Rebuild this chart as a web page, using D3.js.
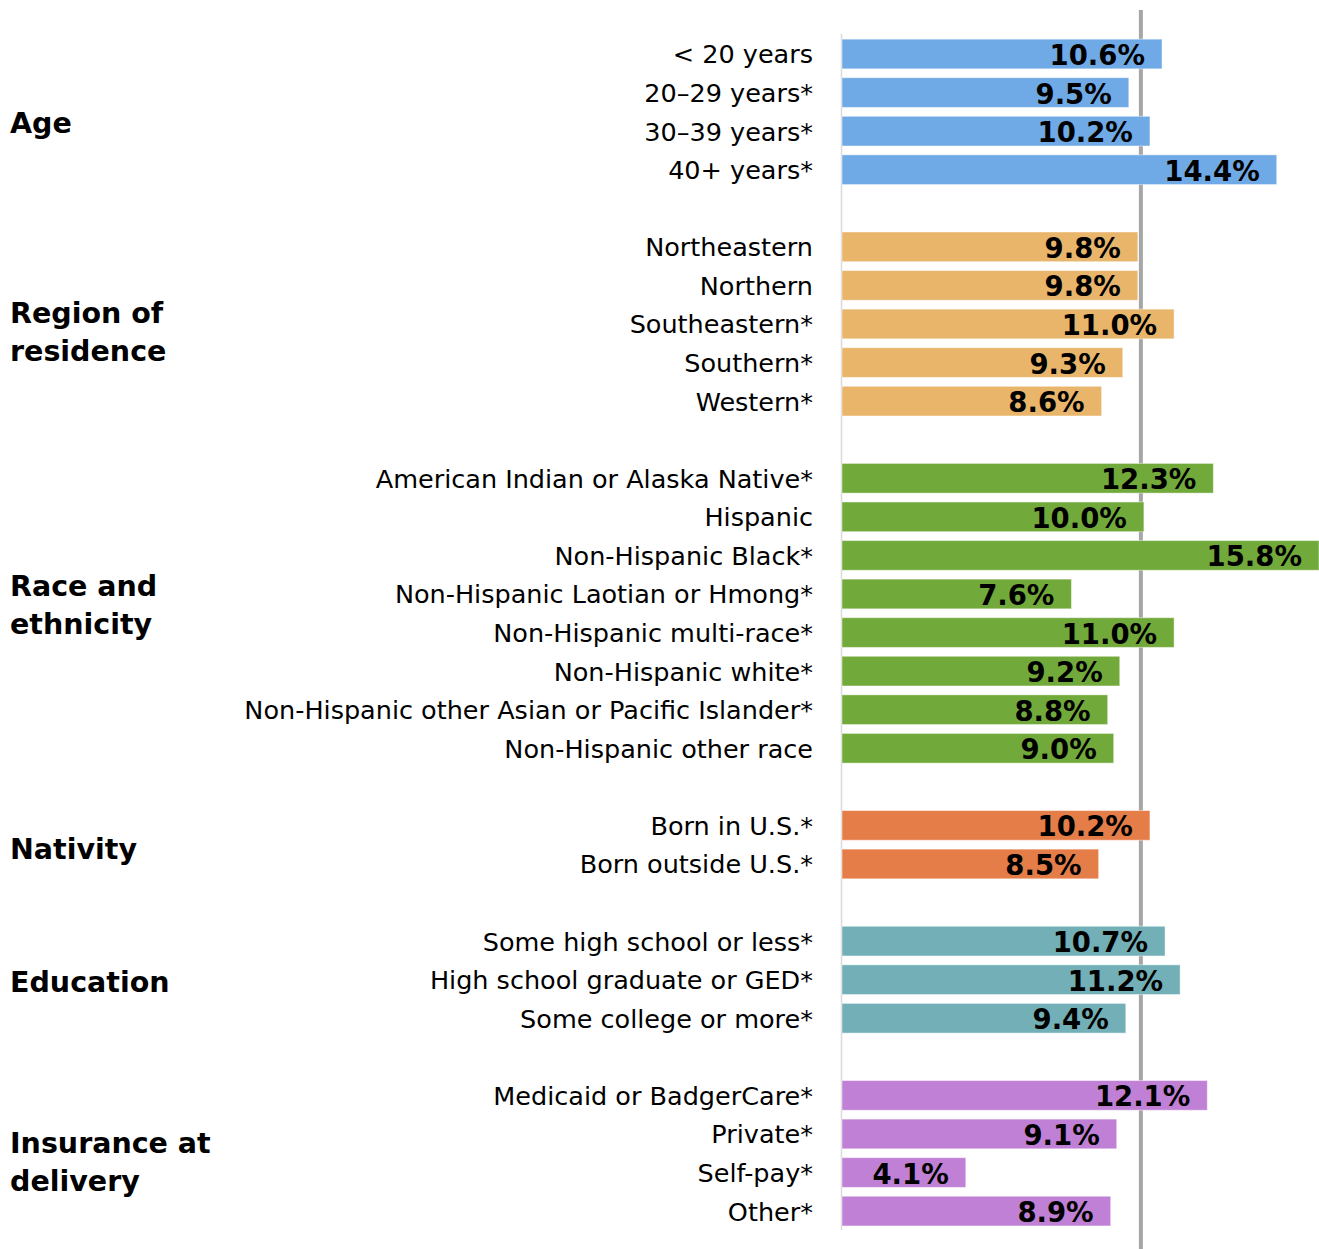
<!DOCTYPE html>
<html><head><meta charset="utf-8">
<script src="https://cdn.jsdelivr.net/npm/d3@7"></script>
<style>body{margin:0;background:#fff}svg{display:block}</style>
</head><body>
<script>
const groups = ["Age","Region of residence","Race and ethnicity","Nativity","Education","Insurance at delivery"];
const groupLabelLines = [["Age"],["Region of","residence"],["Race and","ethnicity"],["Nativity"],["Education"],["Insurance at","delivery"]];
const categories = [
  ["< 20 years","20–29 years*","30–39 years*","40+ years*"],
  ["Northeastern","Northern","Southeastern*","Southern*","Western*"],
  ["American Indian or Alaska Native*","Hispanic","Non-Hispanic Black*","Non-Hispanic Laotian or Hmong*","Non-Hispanic multi-race*","Non-Hispanic white*","Non-Hispanic other Asian or Pacific Islander*","Non-Hispanic other race"],
  ["Born in U.S.*","Born outside U.S.*"],
  ["Some high school or less*","High school graduate or GED*","Some college or more*"],
  ["Medicaid or BadgerCare*","Private*","Self-pay*","Other*"]
];
const values = [
  [10.6,9.5,10.2,14.4],
  [9.8,9.8,11.0,9.3,8.6],
  [12.3,10.0,15.8,7.6,11.0,9.2,8.8,9.0],
  [10.2,8.5],
  [10.7,11.2,9.4],
  [12.1,9.1,4.1,8.9]
];
const groupColors = ["#6FAAE7","#E8B56B","#72A93B","#E57D49","#72AFB6","#BF80D5"];
const overallRate = 9.9;

const W = 1319, H = 1249;
const svg = d3.select("body").append("svg").attr("width",W).attr("height",H);

const rows = [];
const groupSlots = [];
let slot = 0;
groups.forEach((g,gi)=>{
  const start = slot;
  categories[gi].forEach((c,ci)=>{ rows.push({g:gi,label:c,value:values[gi][ci],slot:slot}); slot++; });
  groupSlots.push([start, slot-1]);
  slot++;
});
const nSlots = slot-1;

const x0 = 842;
const x = d3.scaleLinear().domain([0,15.8]).range([x0, W]);
const step = 38.57;
const y = d3.scaleBand().domain(d3.range(nSlots)).range([54 - step/2, 54 - step/2 + step*nSlots]).paddingInner(0.23).paddingOuter(0.115);

const font = "'DejaVu Sans',sans-serif";

svg.append("line").attr("x1",x0-0.5).attr("x2",x0-0.5).attr("y1",34).attr("y2",1230)
  .attr("stroke","#d9d9d9").attr("stroke-width",1.5);

// reference line (behind bars)
svg.append("line").attr("x1",x(overallRate)).attr("x2",x(overallRate)).attr("y1",10).attr("y2",H)
  .attr("stroke","#a6a6a6").attr("stroke-width",4);

svg.append("g").selectAll("rect").data(rows).join("rect")
  .attr("x",x(0)).attr("y",d=>y(d.slot)).attr("width",d=>x(d.value)-x(0)).attr("height",y.bandwidth())
  .attr("fill",d=>groupColors[d.g]).attr("stroke","rgba(255,255,255,0.45)").attr("stroke-width",1);

svg.append("g").selectAll("text").data(rows).join("text")
  .attr("x",d=>x(d.value)-17).attr("y",d=>y(d.slot)+y.bandwidth()/2).attr("dy","0.4em")
  .attr("text-anchor","end").attr("font-family",font).attr("font-weight","bold").attr("font-size",27.5)
  .attr("fill","#000").text(d=>d.value.toFixed(1)+"%");

svg.append("g").selectAll("text").data(rows).join("text")
  .attr("x",813).attr("y",d=>y(d.slot)+y.bandwidth()/2).attr("dy","0.37em")
  .attr("text-anchor","end").attr("font-family",font).attr("font-size",25.5)
  .attr("fill","#000").text(d=>d.label);

const labelOffsets = [11, 8, -9, 4, 2, 8];
groupLabelLines.forEach((lines,gi)=>{
  const [s,e] = groupSlots[gi];
  const cy = (y(s)+y(e)+y.bandwidth())/2 + labelOffsets[gi];
  const lh = 38;
  const t = svg.append("text").attr("font-family",font).attr("font-weight","bold").attr("font-size",28.5).attr("fill","#000");
  lines.forEach((ln,li)=>{
    t.append("tspan").attr("x",10).attr("y",cy + (li-(lines.length-1)/2)*lh).attr("dy","0.36em").text(ln);
  });
});
</script>
</body></html>
